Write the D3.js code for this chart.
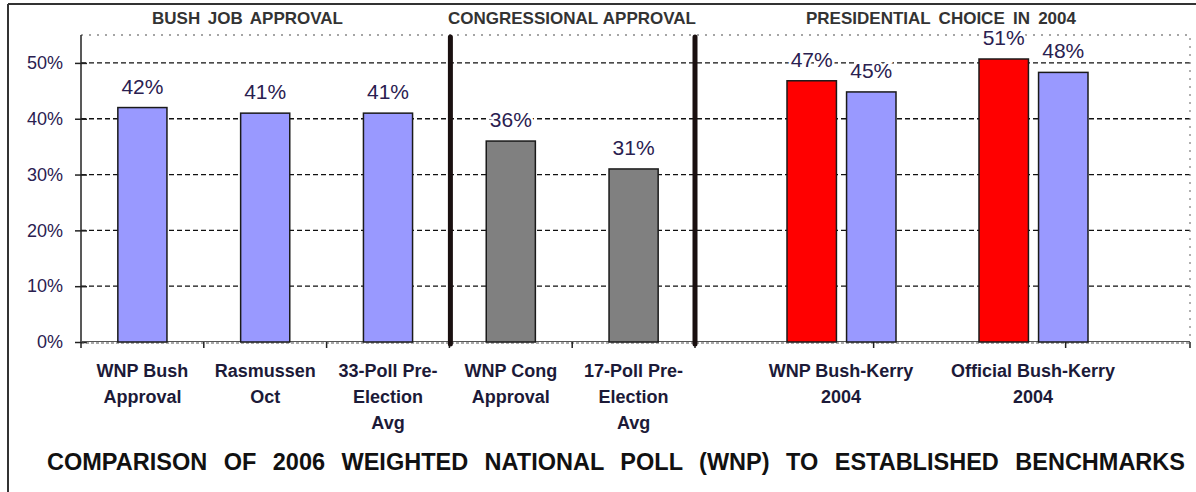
<!DOCTYPE html>
<html>
<head>
    <title>WNP Comparison</title>
    <script src="https://d3js.org/d3.v7.min.js"></script>
    <style>
        body { margin: 0; background: #fff; font-family: Arial, "Liberation Sans", sans-serif; }
        svg text { font-family: Arial, "Liberation Sans", sans-serif; }
    </style>
</head>
<body>
<div id="chart"></div>
<script>
    // single-bar categories
    const categories = ["WNP Bush|Approval", "Rasmussen|Oct", "33-Poll Pre-|Election|Avg",
        "WNP Cong|Approval", "17-Poll Pre-|Election|Avg"];
    const values = [42, 41, 41, 36, 31];
    const barColors = ["#9999ff", "#9999ff", "#9999ff", "#808080", "#808080"];

    // presidential pairs
    const groups = ["WNP Bush-Kerry|2004", "Official Bush-Kerry|2004"];
    const candidates = ["Bush", "Kerry"];
    const bushValues = [46.8, 50.7];
    const kerryValues = [44.8, 48.3];
    const candColors = { Bush: "#ff0000", Kerry: "#9999ff" };

    const yTicks = [0, 10, 20, 30, 40, 50];
    const sections = ["BUSH  JOB  APPROVAL", "CONGRESSIONAL  APPROVAL", "PRESIDENTIAL  CHOICE  IN  2004"];
    const title = "COMPARISON  OF  2006  WEIGHTED  NATIONAL  POLL  (WNP)  TO  ESTABLISHED  BENCHMARKS";

    const W = 1196, H = 492;
    const plotLeft = 81, plotRight = 1190, plotTop = 35, plotBottom = 342;

    const svg = d3.select("#chart").append("svg")
        .attr("width", W).attr("height", H);

    // frame
    svg.append("line").attr("x1", 8).attr("x2", W).attr("y1", 4).attr("y2", 4)
        .attr("stroke", "#333").attr("stroke-width", 2);
    svg.append("line").attr("x1", 8).attr("x2", 8).attr("y1", 4).attr("y2", H)
        .attr("stroke", "#333").attr("stroke-width", 2);

    const y = d3.scaleLinear().domain([0, 55]).range([plotBottom, plotTop]);

    const xSlot = d3.scaleBand().domain(categories).range([plotLeft, 695]).padding(0);
    const xBar = d3.scaleBand().domain(categories).range([plotLeft, 695])
        .paddingInner(0.6).paddingOuter(0.3);

    const xg = d3.scaleBand().domain(groups).range([745, 1129]).padding(0);
    const xs = d3.scaleBand().domain(candidates).range([42, 151]).paddingInner(0.17);

    // gridlines
    svg.append("g").selectAll("line")
        .data(yTicks.filter(d => d > 0))
        .join("line")
        .attr("x1", plotLeft).attr("x2", plotRight)
        .attr("y1", d => y(d)).attr("y2", d => y(d))
        .attr("stroke", "#111").attr("stroke-width", 1.3)
        .attr("stroke-dasharray", "5,3");

    // plot area dotted border
    svg.append("path")
        .attr("d", `M${plotLeft},${plotTop}H${plotRight}V${plotBottom}`)
        .attr("fill", "none").attr("stroke", "#888").attr("stroke-width", 1.3)
        .attr("stroke-dasharray", "2,6");

    // y axis
    const yAxis = svg.append("g")
        .attr("transform", `translate(${plotLeft},0)`)
        .call(d3.axisLeft(y).tickValues(yTicks).tickFormat(d => d + "%")
            .tickSizeInner(6).tickSizeOuter(0).tickPadding(12));
    yAxis.select(".domain").attr("d", `M0,${plotTop}V${plotBottom}`).attr("stroke", "#222").attr("stroke-width", 1.5);
    yAxis.selectAll(".tick line").attr("x2", 6).attr("x1", -6).attr("stroke", "#222").attr("stroke-width", 1.5);
    yAxis.selectAll(".tick text").attr("font-size", 18).attr("fill", "#2a2050");

    // x axis line
    svg.append("line").attr("x1", plotLeft).attr("x2", plotRight).attr("y1", plotBottom - 0.5).attr("y2", plotBottom - 0.5)
        .attr("stroke", "#555").attr("stroke-width", 1);
    svg.append("line").attr("x1", plotLeft).attr("x2", plotRight).attr("y1", plotBottom + 1).attr("y2", plotBottom + 1)
        .attr("stroke", "#555").attr("stroke-width", 1.2).attr("stroke-dasharray", "3,2");

    // x ticks between category slots
    const slotEdges = categories.map(c => xSlot(c)).concat([xSlot.range()[1]]);
    const presTicks = groups.map(g => xg(g) + xg.bandwidth() * 0.67).concat([plotRight]);
    svg.append("g").selectAll("line")
        .data(slotEdges.concat(presTicks))
        .join("line")
        .attr("x1", d => d).attr("x2", d => d)
        .attr("y1", plotBottom).attr("y2", plotBottom + 6)
        .attr("stroke", "#222").attr("stroke-width", 1.5);

    // single bars
    svg.append("g").selectAll("rect")
        .data(values)
        .join("rect")
        .attr("x", (d, i) => xBar(categories[i]))
        .attr("width", xBar.bandwidth())
        .attr("y", d => y(d))
        .attr("height", d => y(0) - y(d))
        .attr("fill", (d, i) => barColors[i])
        .attr("stroke", "#1a1a1a").attr("stroke-width", 1.5);

    svg.append("g").selectAll("text")
        .data(values)
        .join("text")
        .attr("x", (d, i) => xBar(categories[i]) + xBar.bandwidth() / 2)
        .attr("y", d => y(d) - 14)
        .attr("text-anchor", "middle")
        .attr("font-size", 21)
        .attr("fill", "#2a2050")
        .attr("stroke", "#fff").attr("stroke-width", 5).attr("paint-order", "stroke")
        .text(d => Math.round(d) + "%");

    // presidential bars
    const pairs = [];
    groups.forEach((g, i) => {
        pairs.push({ g: g, c: "Bush", v: bushValues[i] });
        pairs.push({ g: g, c: "Kerry", v: kerryValues[i] });
    });

    svg.append("g").selectAll("rect")
        .data(pairs)
        .join("rect")
        .attr("x", d => xg(d.g) + xs(d.c))
        .attr("width", xs.bandwidth())
        .attr("y", d => y(d.v))
        .attr("height", d => y(0) - y(d.v))
        .attr("fill", d => candColors[d.c])
        .attr("stroke", "#1a1a1a").attr("stroke-width", 1.5);

    svg.append("g").selectAll("text")
        .data(pairs)
        .join("text")
        .attr("x", d => xg(d.g) + xs(d.c) + xs.bandwidth() / 2)
        .attr("y", d => y(d.v) - 14)
        .attr("text-anchor", "middle")
        .attr("font-size", 21)
        .attr("fill", "#2a2050")
        .attr("stroke", "#fff").attr("stroke-width", 5).attr("paint-order", "stroke")
        .text(d => Math.round(d.v) + "%");

    // separator lines between sections
    svg.append("g").selectAll("line")
        .data([categories[3], null])
        .join("line")
        .attr("x1", d => d ? xSlot(d) + 1 : xSlot.range()[1])
        .attr("x2", d => d ? xSlot(d) + 1 : xSlot.range()[1])
        .attr("y1", plotTop + 2).attr("y2", plotBottom + 2)
        .attr("stroke", "#1a1010").attr("stroke-width", 5)
        .attr("stroke-linecap", "round");

    // category labels
    function multiline(x, lines) {
        const t = svg.append("text")
            .attr("text-anchor", "middle")
            .attr("font-size", 18).attr("font-weight", "bold")
            .attr("fill", "#1c1a38");
        lines.forEach((l, i) => {
            t.append("tspan").attr("x", x).attr("y", 377 + i * 26).text(l);
        });
    }
    categories.forEach(c => multiline(xSlot(c) + xSlot.bandwidth() / 2, c.split("|")));
    groups.forEach(g => multiline(xg(g) + xg.bandwidth() / 2, g.split("|")));

    // fit text to a width by spreading the word gaps
    function spread(t, width) {
        const n = t.text().split(" ").length - 1;
        const w = t.node().getComputedTextLength();
        if (n > 0) t.attr("word-spacing", (width - w) / n);
    }

    const sectionPos = [[152, 343], [448, 696], [806, 1076]];
    sections.forEach((s, i) => {
        const t = svg.append("text")
            .attr("x", sectionPos[i][0]).attr("y", 24)
            .attr("font-size", 17).attr("font-weight", "bold")
            .attr("fill", "#333")
            .style("white-space", "pre")
            .text(s);
        spread(t, sectionPos[i][1] - sectionPos[i][0]);
    });

    const tt = svg.append("text")
        .attr("x", 47).attr("y", 470)
        .attr("font-size", 23.5).attr("font-weight", "bold")
        .attr("fill", "#111")
        .style("white-space", "pre")
        .text(title);
    spread(tt, 1185 - 47);
</script>
</body>
</html>
